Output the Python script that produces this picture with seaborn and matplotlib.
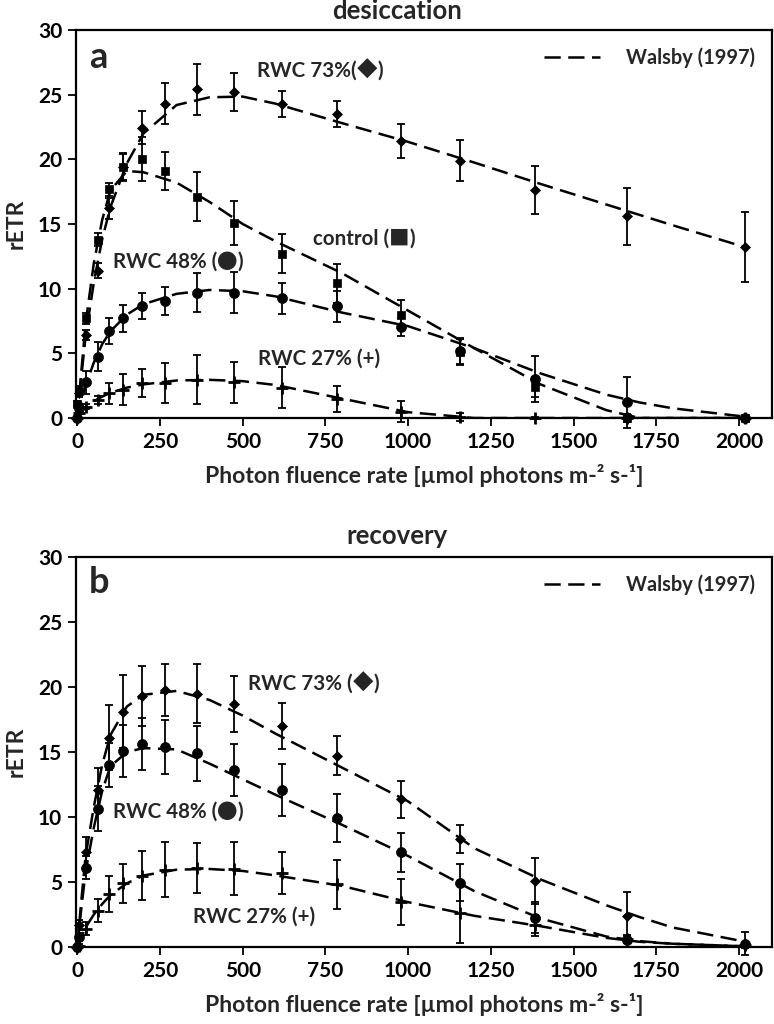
import matplotlib
matplotlib.use("Agg")
import matplotlib.pyplot as plt
import seaborn as sns
import numpy as np

# ---------------- data ----------------
# photon fluence rates of the measurement steps
par = [0, 5, 26, 61, 96, 137, 195, 265, 361, 474, 618, 784, 978, 1158, 1384, 1661, 2017]

# panel a: desiccation
a_rwc73 = [0, 1.9, 6.4, 11.4, 16.2, 19.4, 22.45, 24.3, 25.4, 25.2, 24.25, 23.5, 21.4, 19.9, 17.6, 15.6, 13.2]
a_rwc73_err = [0, 0.3, 0.4, 0.6, 0.8, 1.0, 1.3, 1.6, 2.0, 1.5, 1.0, 1.0, 1.3, 1.6, 1.85, 2.2, 2.7]
a_control = [1.1, 2.1, 7.7, 13.8, 17.7, 19.4, 20.0, 19.1, 17.1, 15.1, 12.7, 10.4, 8.0, 5.1, 2.4, 0.0, 0.0]
a_control_err = [0.2, 0.4, 0.4, 0.5, 0.5, 1.1, 1.7, 1.5, 1.9, 1.7, 1.5, 1.5, 1.1, 1.0, 0.8, 0.3, 0.1]
a_rwc48 = [0, 0.8, 2.75, 4.75, 6.7, 7.7, 8.65, 9.05, 9.7, 9.7, 9.25, 8.65, 7.05, 5.2, 3.0, 1.2, 0.0]
a_rwc48_err = [0, 0.3, 0.9, 1.1, 1.0, 1.05, 1.0, 1.1, 1.5, 1.6, 1.2, 1.2, 0.7, 1.0, 1.8, 2.0, 0.1]
a_rwc27 = [0, 0.4, 0.87, 1.4, 1.9, 2.2, 2.7, 2.73, 2.95, 2.75, 2.35, 1.45, 0.5, 0.05, 0, 0, 0]
a_rwc27_err = [0, 0.1, 0.2, 0.3, 0.8, 1.2, 1.1, 1.55, 1.9, 1.6, 1.6, 1.0, 0.8, 0.3, 0.1, 0.1, 0.1]

# panel b: recovery
b_rwc73 = [0, 1.7, 7.3, 12.05, 16.1, 18.1, 19.3, 19.75, 19.5, 18.7, 17.0, 14.7, 11.36, 8.3, 5.08, 2.36, 0.26]
b_rwc73_err = [0, 0.4, 1.2, 1.7, 2.5, 2.8, 2.3, 2.0, 2.25, 2.15, 1.8, 1.5, 1.4, 1.1, 1.8, 1.9, 0.9]
b_rwc48 = [0, 0.8, 6.1, 10.65, 14.0, 15.1, 15.6, 15.4, 14.9, 13.65, 12.05, 9.9, 7.3, 4.95, 2.26, 0.57, 0.2]
b_rwc48_err = [0, 0.3, 0.9, 1.7, 1.7, 2.0, 2.0, 2.1, 2.1, 2.0, 2.0, 1.85, 1.5, 1.4, 1.2, 0.3, 0.1]
b_rwc27 = [0, 0.1, 1.4, 2.8, 4.1, 4.9, 5.5, 5.95, 6.08, 6.03, 5.7, 4.82, 3.46, 2.6, 1.67, 0.65, 0.13]
b_rwc27_err = [0, 0.1, 0.5, 0.9, 1.4, 1.5, 1.9, 2.1, 1.95, 2.05, 1.6, 1.9, 1.8, 2.3, 0.8, 0.3, 0.2]

# Walsby (1997) model curves
fit_par = [0, 10, 25, 50, 75, 100, 150, 200, 300, 400, 500, 600, 800, 1000, 1200, 1400, 1600, 1700, 1800, 2020]
a_rwc73_fit = [0, 2.7, 6.3, 10.5, 13.8, 16.3, 19.7, 22.0, 24.2, 24.8, 24.85, 24.3, 22.8, 21.35, 19.75, 18.1, 16.5, 15.7, 14.9, 13.2]
a_control_fit = [0, 3.0, 7.3, 12.0, 15.3, 17.6, 19.1, 19.0, 18.2, 16.7, 15.0, 13.65, 11.2, 8.3, 5.4, 2.6, 0.6, 0.0, 0.0, 0.0]
a_rwc48_fit = [0, 1.0, 2.5, 4.3, 5.7, 6.7, 8.0, 8.8, 9.6, 9.9, 9.8, 9.4, 8.15, 7.1, 5.4, 3.45, 1.8, 1.2, 0.75, 0.1]
a_rwc27_fit = [0, 0.4, 0.85, 1.3, 1.65, 1.95, 2.35, 2.6, 2.9, 2.95, 2.85, 2.55, 1.5, 0.45, 0.0, 0, 0, 0, 0, 0]
b_rwc73_fit = [0, 3.0, 7.0, 10.8, 14.0, 16.3, 18.5, 19.4, 19.7, 19.0, 17.8, 16.4, 13.8, 11.2, 7.6, 5.2, 3.2, 2.3, 1.5, 0.4]
b_rwc48_fit = [0, 2.5, 5.8, 9.2, 12.0, 13.9, 15.0, 15.3, 15.2, 14.1, 12.9, 11.7, 9.4, 7.0, 4.3, 2.2, 0.8, 0.45, 0.25, 0.05]
b_rwc27_fit = [0, 0.6, 1.5, 2.5, 3.3, 4.0, 4.9, 5.5, 5.95, 6.0, 5.85, 5.5, 4.7, 3.45, 2.4, 1.6, 0.7, 0.4, 0.25, 0.05]

x_ticks = [0, 250, 500, 750, 1000, 1250, 1500, 1750, 2000]
y_ticks = [0, 5, 10, 15, 20, 25, 30]

# ---------------- style ----------------
sns.set_theme(style="ticks")
FAM = ["Lato", "Noto Sans CJK JP", "DejaVu Sans"]
SYM = ["Noto Sans CJK JP", "DejaVu Sans"]
plt.rcParams["font.family"] = FAM
plt.rcParams["font.weight"] = "bold"
plt.rcParams["axes.labelweight"] = "bold"

W, H = 774, 1024
fig = plt.figure(figsize=(W / 100, H / 100), dpi=100)
renderer = fig.canvas.get_renderer()

def box(left, top, right, bottom):
    return [left / W, 1 - bottom / H, (right - left) / W, (bottom - top) / H]

ax_a = fig.add_axes(box(76, 30, 772, 418))
ax_b = fig.add_axes(box(76, 557, 772, 947))

DASH = (0, (6.5, 3))
marker_style = {
    "rwc73": dict(marker="D", s=26),
    "control": dict(marker="s", s=38),
    "rwc48": dict(marker="o", s=52),
    "rwc27": dict(marker="+", s=64, linewidth=2.0),
}

def draw_series(ax, y, err, fit, kind, label=None):
    sns.lineplot(x=fit_par, y=fit, ax=ax, color="black", linewidth=1.8,
                 linestyle=DASH, label=label, legend=False, zorder=2)
    ax.errorbar(par, y, yerr=err, fmt="none", ecolor="black", elinewidth=1.3,
                capsize=2.6, capthick=1.3, zorder=3, clip_on=False)
    kw = dict(marker_style[kind])
    if kind == "rwc27":
        sns.scatterplot(x=par, y=y, ax=ax, color="black", zorder=4, clip_on=False, **kw)
    else:
        sns.scatterplot(x=par, y=y, ax=ax, color="black", edgecolor="black",
                        linewidth=0.5, zorder=4, clip_on=False, **kw)

draw_series(ax_a, a_rwc73, a_rwc73_err, a_rwc73_fit, "rwc73", label="Walsby (1997)")
draw_series(ax_a, a_control, a_control_err, a_control_fit, "control")
draw_series(ax_a, a_rwc48, a_rwc48_err, a_rwc48_fit, "rwc48")
draw_series(ax_a, a_rwc27, a_rwc27_err, a_rwc27_fit, "rwc27")

draw_series(ax_b, b_rwc73, b_rwc73_err, b_rwc73_fit, "rwc73", label="Walsby (1997)")
draw_series(ax_b, b_rwc48, b_rwc48_err, b_rwc48_fit, "rwc48")
draw_series(ax_b, b_rwc27, b_rwc27_err, b_rwc27_fit, "rwc27")

xlabel = "Photon fluence rate [µmol photons m-² s-¹]"
for ax in (ax_a, ax_b):
    ax.set_xlim(-4, 2100)
    ax.set_ylim(0, 30)
    ax.set_xticks(x_ticks)
    ax.set_yticks(y_ticks)
    ax.tick_params(direction="out", length=6, width=1.3, labelsize=15, pad=4,
                   colors="black")
    for lab in ax.get_xticklabels() + ax.get_yticklabels():
        lab.set_fontweight("bold")
    for sp in ax.spines.values():
        sp.set_visible(True)
        sp.set_linewidth(1.6)
        sp.set_color("black")
    ax.set_xlabel(xlabel, fontsize=16.6, fontweight="bold", labelpad=9)
    ax.set_ylabel("rETR", fontsize=16.5, fontweight="bold", labelpad=8)
    h = [ax.lines[0]]
    ax.legend(handles=h, labels=["Walsby (1997)"], loc="upper right", frameon=False,
              handlelength=2.8, handletextpad=1.3, borderaxespad=0.45,
              prop={"weight": "bold", "size": 14.4, "family": FAM})

def ftext(x, y, s, size=14.8):
    # split into runs so that the marker symbols use a font with large glyphs
    runs = []
    for ch in s:
        fam = SYM if ch in "◆■●" else FAM
        if runs and runs[-1][1] is fam:
            runs[-1][0] += ch
        else:
            runs.append([ch, fam])
    xp = x
    for txt, fam in runs:
        t = fig.text(xp / W, 1 - y / H, txt, fontsize=size, fontweight="bold",
                     ha="left", va="baseline", family=fam)
        bb = t.get_window_extent(renderer)
        xp = bb.x1

fig.text(397 / W, 1 - 19 / H, "desiccation", fontsize=18.5, fontweight="bold",
         ha="center", va="baseline")
fig.text(397 / W, 1 - 544 / H, "recovery", fontsize=18.5, fontweight="bold",
         ha="center", va="baseline")

ftext(89, 68, "a", size=26)
ftext(257, 77, "RWC 73%(◆)")
ftext(313, 245, "control (■)")
ftext(113, 268, "RWC 48% (●)")
ftext(258, 365, "RWC 27% (+)")

ftext(89, 593, "b", size=26)
ftext(248, 690, "RWC 73% (◆)")
ftext(113, 818, "RWC 48% (●)")
ftext(193, 923, "RWC 27% (+)")

fig.savefig("out.png", dpi=100)
